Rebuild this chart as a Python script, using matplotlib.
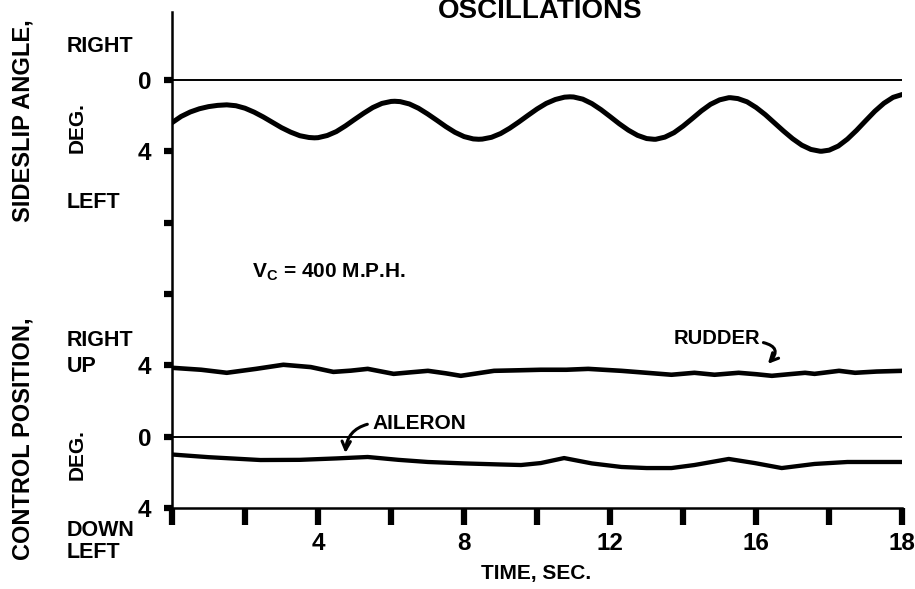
import matplotlib
matplotlib.use("Agg")
import matplotlib.pyplot as plt

# sideslip angle, deg (positive = left)
time_beta = [0, 0.25, 0.5, 0.75, 1.0, 1.25, 1.5, 1.75, 2.0, 2.25, 2.5, 2.75, 3.0, 3.25,
             3.5, 3.75, 3.9, 4.0, 4.25, 4.5, 4.75, 5.0, 5.25, 5.5, 5.75, 6.0, 6.1, 6.25,
             6.5, 6.75, 7.0, 7.25, 7.5, 7.75, 8.0, 8.25, 8.4, 8.5, 8.75, 9.0, 9.25, 9.5,
             9.75, 10.0, 10.25, 10.5, 10.75, 10.9, 11.0, 11.25, 11.5, 11.75, 12.0, 12.25,
             12.5, 12.75, 13.0, 13.2, 13.25, 13.5, 13.75, 14.0, 14.25, 14.5, 14.75, 15.0,
             15.25, 15.3, 15.5, 15.75, 16.0, 16.25, 16.5, 16.75, 17.0, 17.25, 17.5, 17.75,
             17.8, 18.0, 18.25, 18.5, 18.75, 19.0, 19.25, 19.5, 19.75, 20.0]
beta = [2.4, 2.05, 1.8, 1.62, 1.5, 1.43, 1.4, 1.45, 1.59, 1.81, 2.08, 2.38, 2.68, 2.93,
        3.13, 3.23, 3.25, 3.24, 3.12, 2.9, 2.58, 2.22, 1.87, 1.55, 1.32, 1.21, 1.2, 1.22,
        1.35, 1.59, 1.91, 2.26, 2.62, 2.94, 3.18, 3.31, 3.33, 3.32, 3.22, 3.01, 2.71, 2.36,
        1.99, 1.63, 1.32, 1.1, 0.97, 0.95, 0.96, 1.08, 1.33, 1.67, 2.06, 2.46,
        2.82, 3.11, 3.29, 3.33, 3.33, 3.21, 2.96, 2.59, 2.17, 1.74, 1.37, 1.12,
        1.0, 1.0, 1.05, 1.23, 1.55, 1.95, 2.41, 2.87, 3.3, 3.66, 3.9, 4.0,
        4.0, 3.94, 3.71, 3.32, 2.83, 2.29, 1.76, 1.31, 0.98, 0.82]

# rudder, deg (positive = right)
time_rudder = [0, 0.8, 1.5, 2.3, 3.05, 3.8, 4.42, 4.9, 5.36, 6.07, 6.5, 7.01, 7.5, 7.91,
               8.82, 9.5, 10.1, 10.8, 11.4, 12.31, 13.0, 13.68, 14.31, 14.86, 15.52, 16.0,
               16.43, 16.9, 17.34, 17.6, 18.27, 18.71, 19.3, 20.0]
rudder = [3.86, 3.75, 3.58, 3.8, 4.03, 3.9, 3.63, 3.7, 3.8, 3.52, 3.6, 3.69, 3.55, 3.41,
          3.69, 3.72, 3.75, 3.75, 3.8, 3.69, 3.58, 3.47, 3.58, 3.47, 3.58, 3.5, 3.41, 3.5,
          3.58, 3.52, 3.69, 3.58, 3.65, 3.69]

# aileron, deg (positive = down)
time_aileron = [0, 1.0, 2.42, 3.5, 4.5, 5.36, 6.2, 7.01, 8.0, 9.0, 9.56, 10.1, 10.74, 11.5,
                12.31, 13.0, 13.68, 14.31, 15.25, 15.96, 16.7, 17.6, 18.5, 20.0]
aileron = [1.0, 1.15, 1.31, 1.3, 1.22, 1.14, 1.3, 1.42, 1.5, 1.56, 1.59, 1.48, 1.2, 1.5,
           1.7, 1.76, 1.76, 1.59, 1.25, 1.48, 1.76, 1.53, 1.42, 1.42]

# one shared vertical scale, 4 deg per division; two zero references
BETA_ZERO = 6
CTRL_ZERO = 1
DEG_PER_DIV = 4

ytick_pos = [0, 1, 2, 3, 4, 5, 6]
ytick_lab = ["4", "0", "4", "", "", "4", "0"]
xtick_pos = [0, 2, 4, 6, 8, 10, 12, 14, 16, 18, 20]
xtick_lab = ["", "", "4", "", "8", "", "12", "", "16", "", "18"]

plt.rcParams["font.family"] = "Liberation Sans"
plt.rcParams["font.weight"] = "bold"
plt.rcParams["mathtext.fontset"] = "custom"
plt.rcParams["mathtext.bf"] = "Liberation Sans:bold"
plt.rcParams["mathtext.rm"] = "Liberation Sans:bold"

fig = plt.figure(figsize=(9.15, 5.89), dpi=100)
ax = fig.add_axes([0.188, 0.1375, 0.798, 0.842])
ax.set_xlim(0, 20)
ax.set_ylim(0, 6.95)

for s in ["top", "right"]:
    ax.spines[s].set_visible(False)
ax.spines["left"].set_linewidth(1.8)
ax.spines["bottom"].set_linewidth(1.8)

ax.set_yticks(ytick_pos)
ax.set_yticklabels(ytick_lab, fontsize=17.5, fontweight="bold")
ax.set_xticks(xtick_pos)
ax.set_xticklabels(xtick_lab, fontsize=17.5, fontweight="bold")
ax.tick_params(axis="y", direction="out", length=6, width=4.5, pad=9)
ax.tick_params(axis="x", direction="out", length=12, width=4.5, pad=5)

# zero reference lines
ax.plot([0, 20], [BETA_ZERO, BETA_ZERO], color="black", lw=1.4)
ax.plot([0, 20], [CTRL_ZERO, CTRL_ZERO], color="black", lw=1.4)

ax.plot(time_beta, [BETA_ZERO - b / DEG_PER_DIV for b in beta], color="black", lw=3.6,
        solid_capstyle="round", solid_joinstyle="round")
ax.plot(time_rudder, [CTRL_ZERO + r / DEG_PER_DIV for r in rudder], color="black", lw=3.3,
        solid_capstyle="round", solid_joinstyle="round")
ax.plot(time_aileron, [CTRL_ZERO - a / DEG_PER_DIV for a in aileron], color="black", lw=3.1,
        solid_capstyle="round", solid_joinstyle="round")

# labels
ax.annotate("RUDDER", xy=(16.32, 2.02), xytext=(13.75, 2.38), fontsize=14.5, va="center",
            arrowprops=dict(arrowstyle="->", lw=2.2, color="black",
                            connectionstyle="arc3,rad=-0.9",
                            shrinkA=0, shrinkB=0, relpos=(1.0, 0.3)))
ax.annotate("AILERON", xy=(4.75, 0.77), xytext=(5.5, 1.19), fontsize=15, va="center",
            arrowprops=dict(arrowstyle="->", lw=2.2, color="black",
                            connectionstyle="arc3,rad=0.4",
                            shrinkA=2, shrinkB=0, relpos=(0.0, 0.5)))
ax.text(2.2, 3.3, r"$\mathbf{V_C}$ = 400 M.P.H.", fontsize=15, va="center")

fig.text(0.59, 1 - 18 / 589, "OSCILLATIONS", fontsize=20, ha="center", va="baseline")
fig.text(0.586, 1 - 574 / 589, "TIME, SEC.", fontsize=15, ha="center", va="center")

fig.text(0.025, 0.795, "SIDESLIP ANGLE,", fontsize=17, rotation=90, ha="center", va="center")
fig.text(0.025, 0.255, "CONTROL POSITION,", fontsize=17, rotation=90, ha="center", va="center")

left_labels = [("RIGHT", 47), ("LEFT", 202), ("RIGHT", 341), ("UP", 367),
               ("DOWN", 530), ("LEFT", 552)]
for txt, ypx in left_labels:
    fig.text(67 / 915, 1 - ypx / 589, txt, fontsize=15.5, ha="left", va="center")
fig.text(77 / 915, 1 - 128 / 589, "DEG.", fontsize=15, rotation=90, ha="center", va="center")
fig.text(77 / 915, 1 - 455 / 589, "DEG.", fontsize=15, rotation=90, ha="center", va="center")

fig.savefig("out.png", dpi=100, facecolor="white")
